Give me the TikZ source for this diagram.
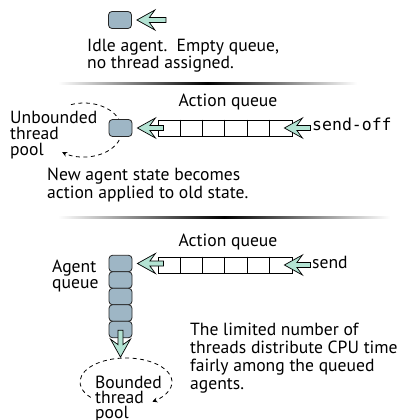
\documentclass[tikz,border=0pt]{standalone}
\usepackage{fontspec}
\setmainfont{PT Sans}
\newfontfamily\monofont{DejaVu Sans Mono}
\usetikzlibrary{arrows.meta}
\definecolor{boxblue}{HTML}{9EB6C5}
\definecolor{arrowgreen}{HTML}{B3E3D3}
\begin{document}
\begin{tikzpicture}[x=1pt,y=-1pt,
  agent/.style={draw=black!85, line width=0.8pt, fill=boxblue, rounded corners=3.5pt,
    minimum width=23pt, minimum height=17pt, inner sep=0pt},
  queuebox/.style={draw=black, line width=0.8pt, fill=white, minimum width=134pt,
    minimum height=16pt, inner sep=0pt},
  lbl/.style={font=\fontsize{17.6}{16}\selectfont, inner sep=0pt, align=left, anchor=base west},
  ctr/.style={font=\fontsize{17.6}{16}\selectfont, inner sep=0pt, anchor=base},
  mono/.style={font=\monofont\fontsize{16.5}{16}\selectfont, inner sep=0pt, anchor=base west},
  poolpath/.style={dash pattern=on 4pt off 3.5pt, line width=0.8pt, -{Stealth[length=5pt,width=5pt]}},
  sep/.style={left color=white, right color=white, middle color=black},
  pics/qarrow/.style={code={\filldraw[fill=arrowgreen, draw=black, line width=0.7pt, line join=miter]
    (0,0) -- (18,-10) -- (12.5,-2.5) -- (#1,-2.5) -- (#1,2.5) -- (12.5,2.5) -- (18,10) -- cycle;}}
]
\useasboundingbox (0,0) rectangle (398,420);

% ---------- panel 1 ----------
\node[agent] (idle) at (120,20) {};
\pic at ([xshift=5pt]idle.east) {qarrow=29};
% base anchor of a multi-line node = baseline of its last line
\node[lbl, font=\fontsize{17.6}{17}\selectfont] (idletxt) at (87,68) {Idle agent.\ \ Empty queue,\\no thread assigned.};

\shade[sep] (58,82) rectangle (357,84.5);

% ---------- panel 2 ----------
\coordinate (c1) at (84,130);
\draw[poolpath] ([shift={(110:38pt and 27pt)}]c1) arc[start angle=110, end angle=-125, x radius=38pt, y radius=27pt];
\node[agent] (a1) at (120.5,128) {};
\node[queuebox] (q1) at (225,128) {};
\foreach \i in {1,...,5}
  \draw[line width=0.8pt] ([xshift=\i*22.33pt]q1.north west) -- ([xshift=\i*22.33pt]q1.south west);
\pic at ([xshift=5pt]a1.east) {qarrow=26};
\pic at ([xshift=-8pt]q1.east) {qarrow=26};
\node[ctr] (aq1) at (228,106) {Action queue};
\node[mono] (sendoff) at (312,130) {send-off};
\node[lbl] (unb) at (10,155) {Unbounded\\thread\\pool};
\node[lbl] (newstate) at (47,198) {New agent state becomes\\action applied to old state.};

\shade[sep] (58,216) rectangle (390,218.5);

% ---------- panel 3 ----------
\coordinate (c2) at (126,382);
\draw[poolpath] ([shift={(-140:46pt and 24pt)}]c2) arc[start angle=-140, end angle=-415, x radius=46pt, y radius=24pt];
\node[ctr] (aq2) at (228,246) {Action queue};
\node[queuebox] (q2) at (225,265) {};
\foreach \i in {1,...,5}
  \draw[line width=0.8pt] ([xshift=\i*22.33pt]q2.north west) -- ([xshift=\i*22.33pt]q2.south west);
\node[agent, minimum height=16.5pt] (b1) at (120.5,263.5) {};
\node[agent, minimum height=16.5pt] (b2) at (120.5,280) {};
\node[agent, minimum height=16.5pt] (b3) at (120.5,296.5) {};
\node[agent, minimum height=16.5pt] (b4) at (120.5,313) {};
\node[agent, minimum height=16.5pt] (b5) at (120.5,329.5) {};
\pic at ([xshift=5pt]b1.east) {qarrow=26};
\pic at ([xshift=-8pt]q2.east) {qarrow=26};
\pic[rotate=90] at ([yshift=-19pt]b5.south) {qarrow=27};
\node[lbl] (send) at (312,268) {send};
\node[lbl] (agq) at (52,288) {Agent\\queue};
\node[lbl, font=\fontsize{17.6}{18}\selectfont] (para) at (190,389) {The limited number of\\threads distribute CPU time\\fairly among the queued\\agents.};
\node[lbl, font=\fontsize{17.6}{15}\selectfont] (bnd) at (95,418) {Bounded\\thread\\pool};
\end{tikzpicture}
\end{document}
